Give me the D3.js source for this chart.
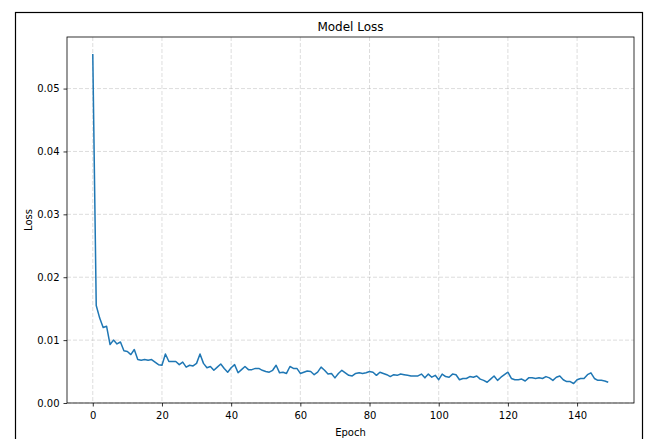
<!DOCTYPE html>
<html><head><meta charset="utf-8">
<script src="https://cdn.jsdelivr.net/npm/d3@7"></script>
<style>body{margin:0;background:#fff}svg{display:block}text{font-family:"DejaVu Sans",sans-serif;fill:#000}</style>
</head><body>
<svg id="c" width="648" height="439"></svg>
<script>
const epochs = d3.range(0,150);
const loss = [0.0555,0.0155,0.0135,0.0120,0.0122,0.0093,0.0100,0.0094,0.0097,0.0083,
0.0082,0.0077,0.0085,0.0069,0.0068,0.0069,0.0068,0.0069,0.0065,0.0061,
0.0060,0.0078,0.0066,0.0066,0.0066,0.0061,0.0065,0.0057,0.0060,0.0059,
0.0063,0.0078,0.0063,0.0056,0.0058,0.0052,0.0057,0.0062,0.0055,0.0049,
0.0056,0.0061,0.0048,0.0053,0.0058,0.0053,0.0053,0.0055,0.0055,0.0052,
0.0050,0.0049,0.0052,0.0060,0.0048,0.0049,0.0047,0.0058,0.0055,0.0055,
0.0047,0.0049,0.0051,0.0050,0.0045,0.0049,0.0057,0.0052,0.0046,0.0047,
0.0040,0.0047,0.0052,0.0048,0.0044,0.0043,0.0047,0.0048,0.0047,0.0048,
0.0050,0.0049,0.0044,0.0049,0.0047,0.0045,0.0042,0.0045,0.0044,0.0046,
0.0045,0.0044,0.0043,0.0043,0.0043,0.0046,0.0040,0.0046,0.0041,0.0044,
0.0037,0.0046,0.0042,0.0041,0.0046,0.0045,0.0037,0.0039,0.0039,0.0042,
0.0041,0.0043,0.0038,0.0036,0.0033,0.0038,0.0043,0.0036,0.0041,0.0045,
0.0049,0.0039,0.0037,0.0037,0.0038,0.0035,0.0040,0.0040,0.0039,0.0040,
0.0039,0.0042,0.0040,0.0036,0.0041,0.0043,0.0037,0.0034,0.0034,0.0031,
0.0037,0.0039,0.0039,0.0045,0.0048,0.0039,0.0036,0.0036,0.0035,0.0033];
const xTicks = [0,20,40,60,80,100,120,140];
const yTicks = [0,0.01,0.02,0.03,0.04,0.05];
const title = "Model Loss", xLabel = "Epoch", yLabel = "Loss";

const svg = d3.select("#c");
const L=67, R=634, T=37, B=403;
const x = d3.scaleLinear().domain([-7.45,156.45]).range([L,R]);
const y = d3.scaleLinear().domain([0,0.0582]).range([B,T]);

svg.append("rect").attr("x",15.5).attr("y",12.5).attr("width",627).attr("height",440)
  .attr("fill","none").attr("stroke","#000").attr("stroke-width",1.2);

// grid
const g = svg.append("g");
g.selectAll(".gx").data(xTicks).join("line")
  .attr("x1",d=>x(d)).attr("x2",d=>x(d)).attr("y1",T).attr("y2",B)
  .attr("stroke","#b0b0b0").attr("stroke-opacity",0.55).attr("stroke-dasharray","4,2").attr("stroke-width",0.8);
g.selectAll(".gy").data(yTicks).join("line")
  .attr("y1",d=>y(d)).attr("y2",d=>y(d)).attr("x1",L).attr("x2",R)
  .attr("stroke","#b0b0b0").attr("stroke-opacity",0.55).attr("stroke-dasharray","4,2").attr("stroke-width",0.8);

// line
svg.append("path").datum(loss)
  .attr("d", d3.line().x((d,i)=>x(epochs[i])).y(d=>y(d)))
  .attr("fill","none").attr("stroke","#1f77b4").attr("stroke-width",1.5).attr("stroke-linejoin","round");

// axes
const xa = svg.append("g").attr("transform",`translate(0,${B})`)
  .call(d3.axisBottom(x).tickValues(xTicks).tickSize(3.5).tickPadding(5).tickFormat(d3.format("d")));
const ya = svg.append("g").attr("transform",`translate(${L},0)`)
  .call(d3.axisLeft(y).tickValues(yTicks).tickSize(3.5).tickPadding(4).tickFormat(d3.format(".2f")));
[xa,ya].forEach(a=>{a.selectAll("text").attr("font-size",10).attr("font-family","DejaVu Sans");a.select(".domain").remove();a.selectAll("line").attr("stroke","#000").attr("stroke-width",0.8);});

svg.append("rect").attr("x",L).attr("y",T).attr("width",R-L).attr("height",B-T)
  .attr("fill","none").attr("stroke","#000").attr("stroke-width",0.8);

svg.append("text").attr("x",(L+R)/2).attr("y",31).attr("text-anchor","middle").attr("font-size",12).text(title);
svg.append("text").attr("x",(L+R)/2).attr("y",436).attr("text-anchor","middle").attr("font-size",10).text(xLabel);
svg.append("text").attr("transform",`translate(32,${(T+B)/2}) rotate(-90)`).attr("text-anchor","middle").attr("font-size",10).text(yLabel);
</script>
</body></html>
